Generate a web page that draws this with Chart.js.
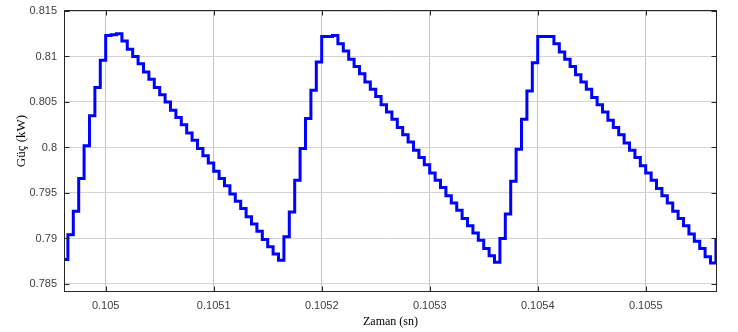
<!DOCTYPE html>
<html>
<head>
<meta charset="utf-8">
<script src="https://cdn.jsdelivr.net/npm/chart.js@4.4.0/dist/chart.umd.min.js"></script>
<style>
body { margin: 0; background: #fff; }
#wrap { width: 738px; height: 332px; }
</style>
</head>
<body>
<div id="wrap"><canvas id="myChart" width="738" height="332"></canvas></div>
<script>
// sampled power, one value every 5 us (zero-order hold)
var sampleStart = 0.10496;
var samplePeriod = 0.000005;

var cycle1 = [0.7877, 0.7904, 0.7930, 0.7966, 0.8002, 0.8035, 0.8066, 0.8096, 0.8123, 0.8124, 0.8125,
    0.8117, 0.8108, 0.8100, 0.8092, 0.8083, 0.8075, 0.8066, 0.8058, 0.8050, 0.8041,
    0.8033, 0.8025, 0.8016, 0.8008, 0.7999, 0.7991, 0.7983, 0.7974, 0.7966, 0.7958,
    0.7949, 0.7941, 0.7933, 0.7924, 0.7916, 0.7908, 0.7899, 0.7891, 0.7883, 0.7876];
var cycle2 = [0.7902, 0.7929, 0.7964, 0.7999, 0.8032, 0.8063, 0.8094, 0.8122, 0.8122, 0.8123,
    0.8114, 0.8106, 0.8097, 0.8089, 0.8081, 0.8072, 0.8064, 0.8056, 0.8047, 0.8039,
    0.8031, 0.8022, 0.8014, 0.8006, 0.7997, 0.7989, 0.7981, 0.7972, 0.7964, 0.7956,
    0.7947, 0.7939, 0.7931, 0.7922, 0.7914, 0.7906, 0.7898, 0.7889, 0.7881, 0.7874];
var cycle3 = [0.7900, 0.7927, 0.7963, 0.7998, 0.8031, 0.8062, 0.8093, 0.8122, 0.8122, 0.8122,
    0.8114, 0.8105, 0.8097, 0.8089, 0.8080, 0.8072, 0.8064, 0.8055, 0.8047, 0.8039,
    0.8030, 0.8022, 0.8014, 0.8005, 0.7997, 0.7989, 0.7980, 0.7972, 0.7964, 0.7955,
    0.7947, 0.7939, 0.7930, 0.7922, 0.7914, 0.7905, 0.7897, 0.7889, 0.7880, 0.7873,
    0.7900];

var power = cycle1.concat(cycle2, cycle3);

var xTicks = [0.105, 0.1051, 0.1052, 0.1053, 0.1054, 0.1055];
var xTickLabels = ['0.105', '0.1051', '0.1052', '0.1053', '0.1054', '0.1055'];
var yTicks = [0.785, 0.79, 0.795, 0.8, 0.805, 0.81, 0.815];
var yTickLabels = ['0.785', '0.79', '0.795', '0.8', '0.805', '0.81', '0.815'];
var yTitle = 'Güç (kW)';

var points = power.map(function (v, i) {
    return { x: sampleStart + i * samplePeriod, y: v };
});

var titleFamily = "'Liberation Serif', 'Times New Roman', serif";

// box round the plot with inward tick marks, plus the y title
var boxPlugin = {
    id: 'box',
    afterDraw: function (chart) {
        var ctx = chart.ctx;
        var a = chart.chartArea;
        var l = Math.round(a.left) + 0.5, r = Math.round(a.right) - 0.5;
        var t = Math.round(a.top) + 0.5, b = Math.round(a.bottom) - 0.5;
        ctx.save();
        ctx.strokeStyle = '#262626';
        ctx.lineWidth = 1;
        ctx.strokeRect(l, t, r - l, b - t);
        ctx.beginPath();
        yTicks.forEach(function (v) {
            var py = Math.round(chart.scales.y.getPixelForValue(v)) + 0.5;
            ctx.moveTo(l, py); ctx.lineTo(l + 5, py);
            ctx.moveTo(r, py); ctx.lineTo(r - 5, py);
        });
        xTicks.forEach(function (v) {
            var px = Math.round(chart.scales.x.getPixelForValue(v)) + 0.5;
            ctx.moveTo(px, b); ctx.lineTo(px, b - 5);
            ctx.moveTo(px, t); ctx.lineTo(px, t + 5);
        });
        ctx.stroke();

        ctx.translate(22, 141);
        ctx.rotate(-Math.PI / 2);
        ctx.fillStyle = '#000';
        ctx.font = '13px ' + titleFamily;
        ctx.textAlign = 'center';
        ctx.textBaseline = 'middle';
        ctx.fillText(yTitle, 0, 0);
        ctx.restore();
    }
};

var tickFont = { family: "'Liberation Sans', Arial, sans-serif", size: 11 };

var ctx = document.getElementById('myChart').getContext('2d');
var chart = new Chart(ctx, {
    type: 'line',
    data: {
        datasets: [{
            data: points,
            borderColor: 'rgb(0, 0, 255)',
            borderWidth: 3,
            pointRadius: 0,
            stepped: 'before',
            fill: false
        }]
    },
    options: {
        responsive: false,
        animation: false,
        layout: { padding: { top: 10, right: 21, left: 0, bottom: 0 } },
        plugins: { legend: { display: false }, tooltip: { enabled: false } },
        scales: {
            x: {
                type: 'linear',
                min: 0.1049614,
                max: 0.105566,
                afterBuildTicks: function (axis) {
                    axis.ticks = xTicks.map(function (v) { return { value: v }; });
                },
                afterFit: function (scale) {
                    scale.height = 40;
                    scale.paddingLeft = 0;
                    scale.paddingRight = 0;
                },
                ticks: {
                    font: tickFont,
                    color: '#404040',
                    padding: 7,
                    maxRotation: 0,
                    callback: function (v, i) { return xTickLabels[i]; }
                },
                grid: { color: '#c4c4c4', drawTicks: false },
                border: { display: false },
                title: {
                    display: true,
                    text: 'Zaman (sn)',
                    font: { family: titleFamily, size: 12 },
                    color: '#000',
                    padding: { top: 0, bottom: 3 }
                }
            },
            y: {
                min: 0.78412,
                max: 0.81511,
                afterBuildTicks: function (axis) {
                    axis.ticks = yTicks.map(function (v) { return { value: v }; });
                },
                afterFit: function (scale) {
                    scale.width = 64;
                    scale.paddingTop = 0;
                    scale.paddingBottom = 0;
                },
                ticks: {
                    font: tickFont,
                    color: '#404040',
                    padding: 7,
                    callback: function (v, i) { return yTickLabels[i]; }
                },
                grid: { color: '#d4d4d4', drawTicks: false },
                border: { display: false }
            }
        }
    },
    plugins: [boxPlugin]
});
</script>
</body>
</html>
